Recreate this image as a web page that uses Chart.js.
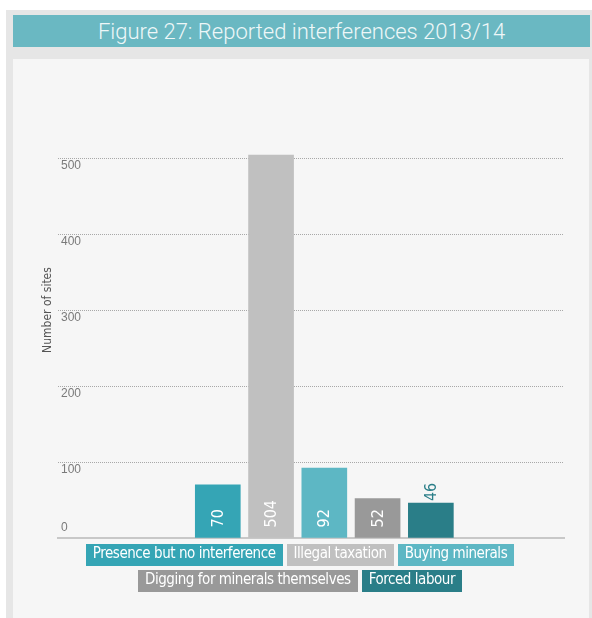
<!DOCTYPE html>
<html>
<head>
<meta charset="utf-8">
<script src="https://cdn.jsdelivr.net/npm/chart.js@4"></script>
<style>
	body { margin: 0; background: #fff; width: 592px; height: 618px; overflow: hidden; position: relative; }
	#frame { position: absolute; left: 6px; top: 10px; width: 586px; height: 608px; background: #e6e6e6; }
	#header { position: absolute; left: 13px; top: 15px; width: 577px; height: 32px; background: #6ab8c2;
		color: #eef7f8; font: 300 22px Roboto, "Liberation Sans", sans-serif; text-align: center; line-height: 33px; }
	#panel { position: absolute; left: 13px; top: 59px; width: 576px; height: 559px; background: #f6f6f6; }
	#wrap { position: absolute; left: 13px; top: 59px; width: 576px; height: 494px; }
	#legend { position: absolute; left: 12px; top: 544px; width: 576px; display: flex; flex-wrap: wrap;
		justify-content: center; gap: 4px 4px; }
	#legend span { display: inline-block; height: 22px; line-height: 24px; padding: 0 7px; color: #fff;
		font: 15px "DejaVu Sans Condensed", sans-serif; letter-spacing: -0.45px; }
</style>
</head>
<body>
<div id="frame"></div>
<div id="header">Figure 27: Reported interferences 2013/14</div>
<div id="panel"></div>
<div id="wrap"><canvas id="chart" width="576" height="494"></canvas></div>
<div id="legend"></div>
<script>
// donnees du graphique
const categories = [
	"Presence but no interference",
	"Illegal taxation",
	"Buying minerals",
	"Digging for minerals themselves",
	"Forced labour",
];
const siteCounts = [70, 504, 92, 52, 46];
const barColors = ["#35a5b5", "#c0c0c0", "#5db7c4", "#999999", "#2a7e88"];
const yTicks = [0, 100, 200, 300, 400, 500];
const yTitle = "Number of sites";

const narrow = '"DejaVu Sans Condensed", sans-serif';

// legende en html (boites colorees)
const legend = document.getElementById("legend");
categories.forEach((name, i) => {
	const span = document.createElement("span");
	span.textContent = name;
	span.style.background = barColors[i];
	legend.appendChild(span);
});

// etiquettes des graduations, titre de l'axe + valeurs tournees dans les barres
const labelsPlugin = {
	id: "labelsPlugin",
	afterDatasetsDraw(chart) {
		const ctx = chart.ctx;
		const y = chart.scales.y;
		const area = chart.chartArea;

		ctx.save();
		ctx.fillStyle = "#7a7a7a";
		ctx.font = '12px "Liberation Sans", sans-serif';
		ctx.textAlign = "left";
		ctx.textBaseline = "middle";
		yTicks.forEach((t) => {
			const py = y.getPixelForValue(t);
			ctx.fillText(String(t), area.left + 3, t === 0 ? py - 10 : py + 8);
		});

		// titre de l'axe y, un peu plus haut que le milieu
		ctx.save();
		ctx.translate(area.left - 10, y.getPixelForValue(300));
		ctx.rotate(-Math.PI / 2);
		ctx.textAlign = "center";
		ctx.textBaseline = "middle";
		ctx.fillStyle = "#555";
		ctx.font = "12px " + narrow;
		ctx.fillText(yTitle, 0, 0);
		ctx.restore();

		ctx.font = "16px " + narrow;
		const meta = chart.getDatasetMeta(0);
		meta.data.forEach((bar, i) => {
			const h = bar.base - bar.y;
			ctx.save();
			if (h > 38) {
				ctx.translate(bar.x, bar.base - 10);
				ctx.fillStyle = "#ffffff";
			} else {
				ctx.translate(bar.x, bar.y - 2);
				ctx.fillStyle = barColors[i];
			}
			ctx.rotate(-Math.PI / 2);
			ctx.textAlign = "left";
			ctx.textBaseline = "middle";
			ctx.fillText(String(siteCounts[i]), 0, 1);
			ctx.restore();
		});
		ctx.restore();
	},
};

new Chart(document.getElementById("chart"), {
	type: "bar",
	data: {
		datasets: [
			{
				data: siteCounts.map((v, i) => ({ x: i, y: v })),
				backgroundColor: barColors,
				barThickness: 45,
				clip: false,
			},
		],
	},
	options: {
		responsive: false,
		animation: false,
		events: [],
		layout: { padding: { left: 45, right: 25, top: 99, bottom: 7 } },
		plugins: {
			legend: { display: false },
			tooltip: { enabled: false },
		},
		scales: {
			x: {
				type: "linear",
				min: -3,
				max: 6.5,
				offset: false,
				grid: { display: false },
				ticks: { display: false },
				border: { display: true, color: "#c8c8c8", width: 2 },
			},
			y: {
				min: 0,
				max: 500,
				ticks: { display: false, stepSize: 100 },
				grid: {
					drawTicks: false,
					color: (c) => (c.tick && c.tick.value === 0 ? "rgba(0,0,0,0)" : "#a8a8a8"),
				},
				border: { display: false, dash: [1, 1] },
				title: { display: false },
			},
		},
	},
	plugins: [labelsPlugin],
});
</script>
</body>
</html>
